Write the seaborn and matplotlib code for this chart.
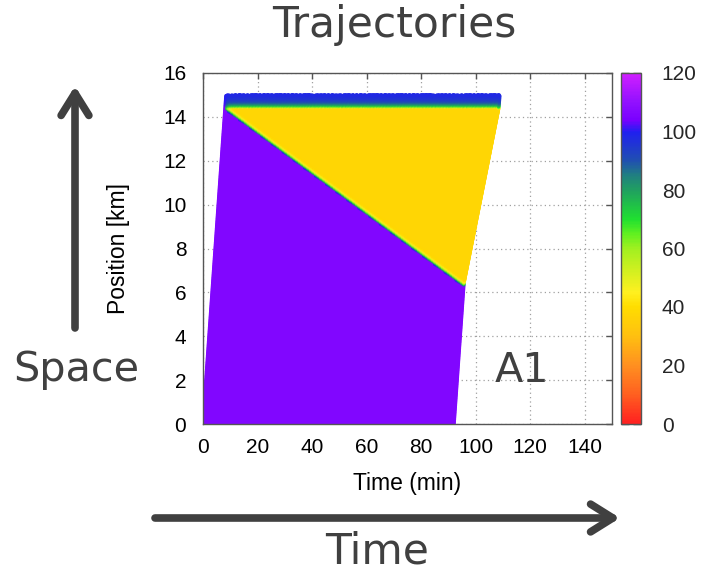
import numpy as np
import pandas as pd
import matplotlib
matplotlib.use("Agg")
import matplotlib.pyplot as plt
import seaborn as sns
from matplotlib.colors import LinearSegmentedColormap, Normalize
from matplotlib.cm import ScalarMappable

# ---------------- data ----------------
departure_window = [0.0, 92.0]      # min, first / last vehicle entering at 0 km
headway = 0.25                      # min between vehicles
free_speed = 106.0                  # km/h (purple)
queue_speed = 37.5                  # km/h (yellow)
discharge_speed = 100.0             # km/h after the bottleneck (blue)
bottleneck_start = 14.38            # km
road_end = 15.0                     # km
queue_tail_t = [8.7, 95.5]          # min, queue tail (shock wave) end points
queue_tail_y = [14.3, 6.3]          # km

speed_levels = [0, 10, 20, 30, 40, 45, 50, 60, 65, 70, 80, 85, 90, 100, 104, 110, 120]
speed_colors = ["#ff2020", "#ff6020", "#ff9020", "#ffc010", "#ffdd00", "#fff020",
                "#e0f020", "#a0f020", "#60f020", "#20e030", "#20a060", "#208080",
                "#2050b0", "#2020f0", "#7800ff", "#9010ff", "#d020ff"]

x_ticks = [0, 20, 40, 60, 80, 100, 120, 140]
y_ticks = [0, 2, 4, 6, 8, 10, 12, 14, 16]
cbar_ticks = [0, 20, 40, 60, 80, 100, 120]

# ---------------- trajectories (speed relaxation towards local target) ----------------
dt = 0.01
tau_dec = 0.09
tau_acc = 0.13
t0s = np.arange(departure_window[0], departure_window[1] + 1e-9, headway)
n = len(t0s)
pos = np.zeros(n)
vel = np.full(n, free_speed)
done = np.zeros(n, bool)
slope = (queue_tail_y[1] - queue_tail_y[0]) / (queue_tail_t[1] - queue_tail_t[0])
rec_t, rec_y, rec_v, rec_id = [], [], [], []
ids = np.arange(n)
step = 0
while not done.all():
    t = step * dt
    active = (t >= t0s) & ~done
    if active.any():
        tail = queue_tail_y[0] + slope * (t - queue_tail_t[0]) if t >= queue_tail_t[0] else np.inf
        in_strip = pos >= bottleneck_start
        target = np.where(in_strip, discharge_speed,
                          np.where(pos >= tail, queue_speed, free_speed))
        tau = np.where(target > vel, tau_acc, tau_dec)
        if step % 4 == 0:
            rec_t.append(np.full(active.sum(), t))
            rec_y.append(pos[active].copy())
            rec_v.append(vel[active].copy())
            rec_id.append(ids[active])
        vel[active] += (target - vel)[active] * dt / tau[active]
        pos[active] += vel[active] / 60.0 * dt
        done |= pos >= road_end
    step += 1

df = pd.DataFrame({"time": np.concatenate(rec_t), "position": np.concatenate(rec_y),
                   "speed": np.concatenate(rec_v), "vid": np.concatenate(rec_id)})
df = df.sort_values(["vid", "time"], kind="stable").reset_index(drop=True)

# ---------------- figure ----------------
sns.set_theme(style="white")
plt.rcParams["font.family"] = ["Liberation Sans", "DejaVu Sans"]

W, H = 703, 572
fig = plt.figure(figsize=(W / 100, H / 100), dpi=100)
ax = fig.add_axes([203 / W, 1 - 424 / H, 409 / W, 351 / H])
cax = fig.add_axes([621 / W, 1 - 424 / H, 20 / W, 351 / H])

cmap = LinearSegmentedColormap.from_list(
    "speed", [(lv / 120.0, c) for lv, c in zip(speed_levels, speed_colors)])
norm = Normalize(0, 120)

sns.scatterplot(data=df, x="time", y="position", hue="speed", palette=cmap,
                hue_norm=norm, s=8, linewidth=0, legend=False, ax=ax,
                rasterized=True)

ax.set_xlim(0, 150)
ax.set_ylim(0, 16)
ax.set_xticks(x_ticks)
ax.set_yticks(y_ticks)
ax.grid(True, color="#a0a0a0", linestyle=(0, (1, 2.5)), linewidth=0.9)
ax.set_axisbelow(True)
for sp in ax.spines.values():
    sp.set_color("#555555")
    sp.set_linewidth(1.0)
ax.tick_params(axis="both", direction="in", length=4, width=1, color="#555555",
               labelsize=15, labelcolor="black", top=True, right=True)
ax.tick_params(axis="y", pad=12)
ax.tick_params(axis="x", pad=10)
ax.set_xlabel("Time (min)", fontsize=16.5, color="black", labelpad=11)
ax.set_ylabel("Position [km]", fontsize=16.5, color="black", labelpad=24)

cb = fig.colorbar(ScalarMappable(norm=norm, cmap=cmap), cax=cax)
cb.set_ticks(cbar_ticks)
cb.outline.set_edgecolor("#555555")
cb.outline.set_linewidth(1.0)
cax.tick_params(axis="y", direction="in", length=6, width=1, color="#333333",
                left=True, right=True, labelsize=15, pad=15)

# ---------------- annotations ----------------
txt = "#404040"
big = ["DejaVu Sans"]
fig.text(394 / W, 1 - 37 / H, "Trajectories", ha="center", va="baseline",
         fontsize=30.5, color=txt, family=big)
fig.text(13 / W, 1 - 381 / H, "Space", ha="left", va="baseline",
         fontsize=29.8, color=txt, family=big)
fig.text(377 / W, 1 - 563 / H, "Time", ha="center", va="baseline",
         fontsize=30.5, color=txt, family=big)
fig.text(495 / W, 1 - 382 / H, "A1", ha="left", va="baseline",
         fontsize=29.8, color=txt, family=big)

arrow = dict(arrowstyle="->,head_length=0.8,head_width=0.5", color=txt,
             lw=5.5, mutation_scale=20, shrinkA=0, shrinkB=0)
fig.add_artist(matplotlib.patches.FancyArrowPatch(
    (75 / W, 1 - 328 / H), (75 / W, 1 - 86 / H), transform=fig.transFigure, **arrow))
fig.add_artist(matplotlib.patches.FancyArrowPatch(
    (155 / W, 1 - 518 / H), (620 / W, 1 - 518 / H), transform=fig.transFigure, **arrow))

fig.savefig("out.png", dpi=100)
